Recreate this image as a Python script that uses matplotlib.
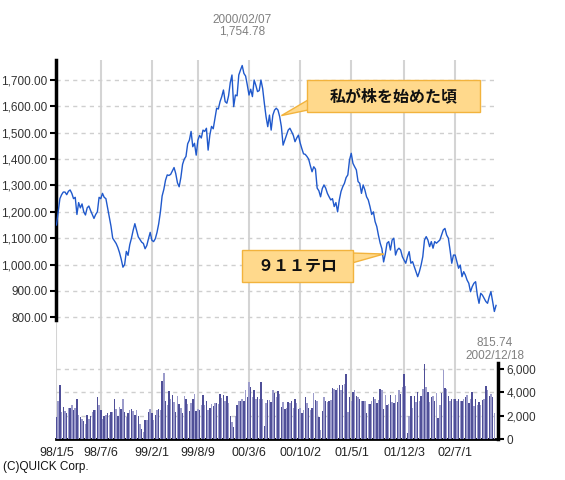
import matplotlib
matplotlib.use('Agg')
import matplotlib.pyplot as plt
import matplotlib.dates as mdates
from matplotlib.patches import Rectangle, Polygon
import numpy as np
import pandas as pd

# weekly close (every Monday from 1998/1/5)
price = [
    1150, 1200, 1250, 1265, 1275, 1275, 1265, 1278, 1283, 1270,
    1250, 1255, 1190, 1235, 1215, 1230, 1200, 1188, 1215, 1222,
    1205, 1190, 1175, 1190, 1200, 1255, 1250, 1270, 1255, 1250,
    1215, 1180, 1145, 1100, 1090, 1080, 1065, 1045, 1020, 990,
    1000, 1050, 1035, 1075, 1100, 1130, 1155, 1130, 1105, 1095,
    1085, 1080, 1060, 1072, 1098, 1122, 1092, 1087, 1098, 1122,
    1155, 1200, 1260, 1285, 1320, 1340, 1338, 1342, 1355, 1368,
    1345, 1310, 1295, 1330, 1380, 1400, 1410, 1458, 1472, 1505,
    1447, 1460, 1415, 1472, 1490, 1480, 1510, 1505, 1517, 1434,
    1491, 1524, 1515, 1555, 1593, 1590, 1618, 1637, 1662, 1618,
    1612, 1640, 1690, 1719, 1599, 1643, 1640, 1719, 1738, 1755,
    1725, 1715, 1681, 1643, 1665, 1637, 1700, 1680, 1656, 1660,
    1700, 1668, 1612, 1561, 1523, 1567, 1510, 1567, 1586, 1593,
    1586, 1561, 1523, 1453, 1472, 1491, 1510, 1517, 1504, 1490,
    1466, 1480, 1491, 1462, 1440, 1420, 1418, 1410, 1400, 1375,
    1352, 1371, 1362, 1290, 1280, 1257, 1288, 1302, 1290, 1270,
    1257, 1245, 1250, 1220, 1235, 1200, 1245, 1277, 1295, 1308,
    1330, 1340, 1397, 1422, 1384, 1371, 1359, 1315, 1308, 1270,
    1302, 1283, 1257, 1245, 1220, 1190, 1200, 1163, 1144, 1110,
    1081, 1060, 1010, 1040, 1081, 1087, 1055, 1093, 1100, 1036,
    1055, 1062, 1055, 1030, 1017, 1005, 1030, 1049, 1005, 1011,
    992, 973, 954, 973, 998, 1030, 1093, 1106, 1093, 1068,
    1087, 1062, 1087, 1081, 1087, 1093, 1112, 1131, 1137, 1112,
    1100, 1055, 1005, 1036, 1036, 1011, 986, 998, 954, 973,
    960, 941, 929, 897, 916, 929, 935, 884, 853, 891,
    884, 872, 860, 853, 878, 897, 860, 822, 845,
]

# weekly volume (million shares)
volume = [
    1900, 3300, 4600, 2300, 2750, 2400, 2200, 2700, 2700, 2900,
    2500, 2700, 3400, 2050, 1850, 1700, 1550, 1250, 2100, 1750,
    2000, 2300, 2500, 2500, 3600, 2900, 2470, 1750, 2000, 2050,
    2200, 2080, 2350, 2350, 3400, 2600, 1950, 2750, 2600, 3400,
    2300, 1850, 2200, 2470, 2600, 2400, 2050, 2470, 1960, 1250,
    900, 620, 1600, 1600, 2330, 2600, 2250, 1600, 2050, 2500,
    2600, 2450,
    4970, 5700, 3300, 2900, 4100, 3400, 3750, 3180, 2330, 3660,
    3040, 2700, 2250, 3660, 3460, 3000, 2420, 3100, 3400, 3830,
    2400, 2550, 2520, 2900, 3800, 2900, 3270, 2520, 2700, 3000,
    2800, 3100, 3100, 3040, 3900, 3500, 3750, 3300, 3660, 3100,
    1960, 1500, 1000, 1960, 2900, 3300, 3240, 3400, 3240, 4170,
    3600,
    4880, 4500, 3600, 4230, 3460, 3600, 3460, 4880, 3460, 1100,
    3100, 3380, 3380, 3180, 4170, 3950, 3600, 4100, 3900, 2750,
    3180, 2600, 2700, 3180, 3100, 3270, 2700, 3460, 3100, 2560,
    2700, 2190, 2470, 3600, 3100, 2700, 2470, 2700, 3950, 3380,
    3270, 1900, 770, 2400, 3600, 3300, 3180, 3270, 3380, 4400,
    4300, 4200, 4400, 4600, 4200, 4600, 4740, 5540, 2330, 3600,
    3300, 4030, 4170, 3660, 3600, 3460, 3240, 3240, 3240, 2200,
    2980, 3040, 3270, 3600, 3460, 3100, 3380, 4320, 4170, 2600,
    3750, 2900, 3040, 3750, 3180, 3100, 3750, 3180, 4230, 3900,
    4460, 5540, 4520, 480, 1960, 3660, 2700, 3660, 3180, 4030,
    3300, 3660, 4300, 6450, 4460, 4030, 3180, 3600, 3660, 3300,
    3950, 1760, 2900, 3950, 5880, 4370, 4300, 3660, 3300, 3460,
    3460, 3460, 3300, 3460, 3300, 3240, 3460, 3600, 3750, 3100,
    3460, 4030, 2810, 3460, 2900, 3180, 2900, 3380, 3460, 4520,
    4230, 3660, 3830, 3600, 2190,
]

tick_dates = ['1998-01-05', '1998-07-06', '1999-02-01', '1999-08-09', '2000-03-06',
              '2000-10-02', '2001-05-01', '2001-12-03', '2002-07-01']
tick_labels = ['98/1/5', '98/7/6', '99/2/1', '99/8/9', '00/3/6',
               '00/10/2', '01/5/1', '01/12/3', '02/7/1']
price_ticks = [800, 900, 1000, 1100, 1200, 1300, 1400, 1500, 1600, 1700]
vol_ticks = [0, 2000, 4000, 6000]

W, H = 565, 480
num_font = 'Liberation Sans'
jp_font = ['Noto Sans CJK JP', 'DejaVu Sans']

dates = pd.date_range('1998-01-05', periods=len(price), freq='7D')
vdates = pd.date_range('1998-01-05', periods=len(volume), freq='7D')
start = pd.Timestamp('1998-01-05')


def px(x, y):
    # pixel position (from top-left) -> figure fraction
    return x / W, 1 - y / H


fig = plt.figure(figsize=(W / 100, H / 100), dpi=100)
ax = fig.add_axes([56 / W, 1 - 439 / H, 442 / W, 379 / H])
ax2 = ax.twinx()

# price line
ax.plot(dates, price, color='#2059CC', lw=1.0, zorder=3)
ax.set_ylim(338.3, 1775.9)
ax.set_xlim(start - pd.Timedelta(days=2), start + pd.Timedelta(days=1814))

ax.set_yticks(price_ticks)
ax.set_yticklabels([f'{v:,.2f}' for v in price_ticks], fontsize=8.5,
                   family=num_font, color='#333333')
ax.set_xticks(pd.to_datetime(tick_dates))
ax.set_xticklabels(tick_labels, fontsize=9, family=num_font, color='#222222')
ax.tick_params(axis='x', length=0, pad=6)
ax.tick_params(axis='y', length=4, width=1.5, color='black', direction='out', pad=2)
ax.grid(axis='x', color='#d4d4d4', lw=1.5)
ax.grid(axis='y', color='#cfcfcf', lw=1.0, ls=(0, (3, 3)))
ax.set_axisbelow(True)

for s in ['top', 'right']:
    ax.spines[s].set_visible(False)
ax.spines['left'].set_linewidth(2.5)
ax.spines['left'].set_bounds(790, 1775.9)
ax.spines['bottom'].set_color('black')
ax.spines['bottom'].set_linewidth(2)
ax.spines['bottom'].set_linestyle((0, (3, 1)))

# volume bars
bar_colors = ['#4F4F98' if i % 2 == 0 else '#9C9CCB' for i in range(len(volume))]
ax2.bar(vdates, volume, width=6, color=bar_colors, zorder=2)
ax2.set_ylim(0, 32530)
ax2.set_yticks(vol_ticks)
ax2.set_yticklabels([f'{v:,}' for v in vol_ticks], fontsize=8.5,
                    family=num_font, color='#333333')
ax2.tick_params(axis='y', length=4, width=1.5, color='black', direction='out', pad=2)
for s in ['top', 'left', 'bottom']:
    ax2.spines[s].set_visible(False)
ax2.spines['right'].set_linewidth(2.5)
ax2.spines['right'].set_bounds(0, 6550)
for v in vol_ticks[1:]:
    ax2.axhline(v, color='#cfcfcf', lw=1.0, ls=(0, (3, 3)), zorder=1)

# high / last labels
fig.text(*px(242, 20), '2000/02/07', ha='center', va='center', fontsize=8.5,
         family=num_font, color='#808080')
fig.text(*px(242, 32), '1,754.78', ha='center', va='center', fontsize=8.5,
         family=num_font, color='#808080')
fig.text(*px(495, 343), '815.74', ha='center', va='center', fontsize=8.5,
         family=num_font, color='#808080')
fig.text(*px(495, 356), '2002/12/18', ha='center', va='center', fontsize=8.5,
         family=num_font, color='#808080')
fig.text(*px(3, 467), '(C)QUICK Corp.', ha='left', va='center', fontsize=8.5,
         family=num_font, color='#111111')


def callout(x0, y0, x1, y1, text, base, tip_date, tip_val):
    # box in pixels, wedge from box edge to a point on the line
    fx0, fy1 = px(x0, y1)
    fx1, fy0 = px(x1, y0)
    tip = ax.transData.transform((mdates.date2num(pd.Timestamp(tip_date)), tip_val))
    tip = fig.transFigure.inverted().transform(tip)
    wedge = Polygon([px(*base[0]), tuple(tip), px(*base[1])], closed=True,
                    transform=fig.transFigure, facecolor='#FFD98C',
                    edgecolor='#F2B33D', lw=1, zorder=10)
    fig.add_artist(wedge)
    box = Rectangle((fx0, fy1), fx1 - fx0, fy0 - fy1, transform=fig.transFigure,
                    facecolor='#FFD98C', edgecolor='#F2B33D', lw=1, zorder=11)
    fig.add_artist(box)
    fig.text((fx0 + fx1) / 2, (fy0 + fy1) / 2, text, ha='center', va='center',
             fontsize=11.5, family=jp_font, weight='bold', color='#111111', zorder=12)


callout(307, 80, 480, 112, '私が株を始めた頃', [(308, 100), (308, 110)], '2000-07-17', 1565)
callout(242, 250, 353, 282, '９１１テロ', [(352, 253), (352, 263)], '2001-09-11', 1040)

plt.savefig('out.png', dpi=100)
